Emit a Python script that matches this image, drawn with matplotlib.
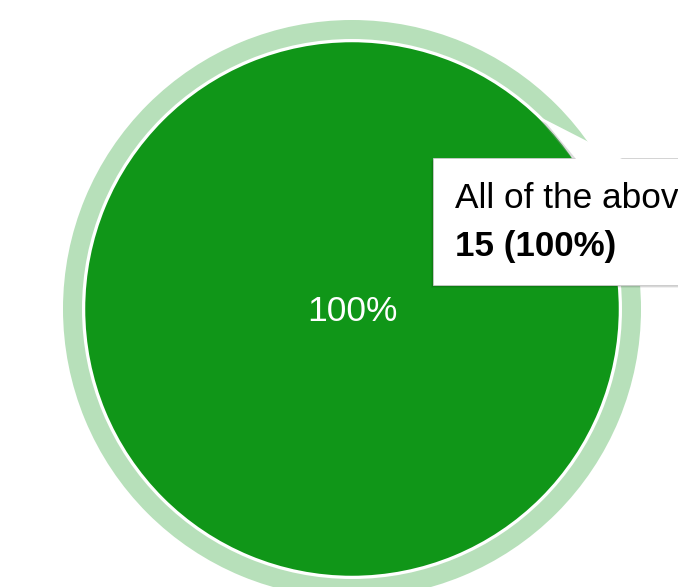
import matplotlib
matplotlib.use("Agg")
import matplotlib.pyplot as plt
import matplotlib.patches as patches

# data
labels = ["All of the above"]
counts = [15]
slice_colors = ["#109618"]
hover_color = "#b7e0ba"

W, H = 678, 587
cx, cy = 352, 309
r_pie = 268
r_ring = 289

plt.rcParams['font.family'] = ['Liberation Sans', 'DejaVu Sans']

fig = plt.figure(figsize=(W / 100, H / 100), dpi=100)
ax = fig.add_axes([0, 0, 1, 1])

# hover ring round the slice
ax.pie(counts, colors=[hover_color], radius=r_ring, center=(cx, cy),
       startangle=90, counterclock=False,
       wedgeprops=dict(width=r_ring - r_pie - 2, linewidth=0))

# the pie itself, white border
total = sum(counts)
wedges, texts, autotexts = ax.pie(
    counts, colors=slice_colors, radius=r_pie, center=(cx, cy),
    startangle=90, counterclock=False,
    autopct=lambda p: '%d%%' % round(p), pctdistance=0,
    textprops=dict(color='white', fontsize=25.5),
    wedgeprops=dict(edgecolor='white', linewidth=1.8))
for t in autotexts:
    t.set_va('baseline')
    t.set_position((cx, cy + 12))

ax.set_xlim(0, W)
ax.set_ylim(H, 0)
ax.set_aspect('equal')
ax.axis('off')

# tooltip: shadow, callout, box
bx, by, bw, bh = 433, 158, 300, 127
for off, a in [(3, 0.06), (2, 0.10), (1, 0.18)]:
    ax.add_patch(patches.Rectangle((bx - off + 1, by + off), bw, bh,
                                   facecolor='black', alpha=a, linewidth=0, zorder=5))
tail = [(542, 118), (576, 159), (622, 159)]
ax.add_patch(patches.Polygon([(x - 2, y + 2) for x, y in tail], closed=True,
                             facecolor='#999999', alpha=0.35, linewidth=0, zorder=5))
ax.add_patch(patches.Rectangle((bx, by), bw, bh, facecolor='white',
                               edgecolor='#cccccc', linewidth=0.6, zorder=6))
ax.add_patch(patches.Polygon(tail, closed=True, facecolor='white',
                             linewidth=0, zorder=7))

pct = round(100 * counts[0] / total)
ax.text(455, 208, labels[0], fontsize=25.4, color='black',
        ha='left', va='baseline', zorder=8)
ax.text(455, 256, '%d (%d%%)' % (counts[0], pct), fontsize=25.2,
        fontweight='bold', color='black', ha='left', va='baseline', zorder=8)

fig.savefig('out.png', dpi=100)
